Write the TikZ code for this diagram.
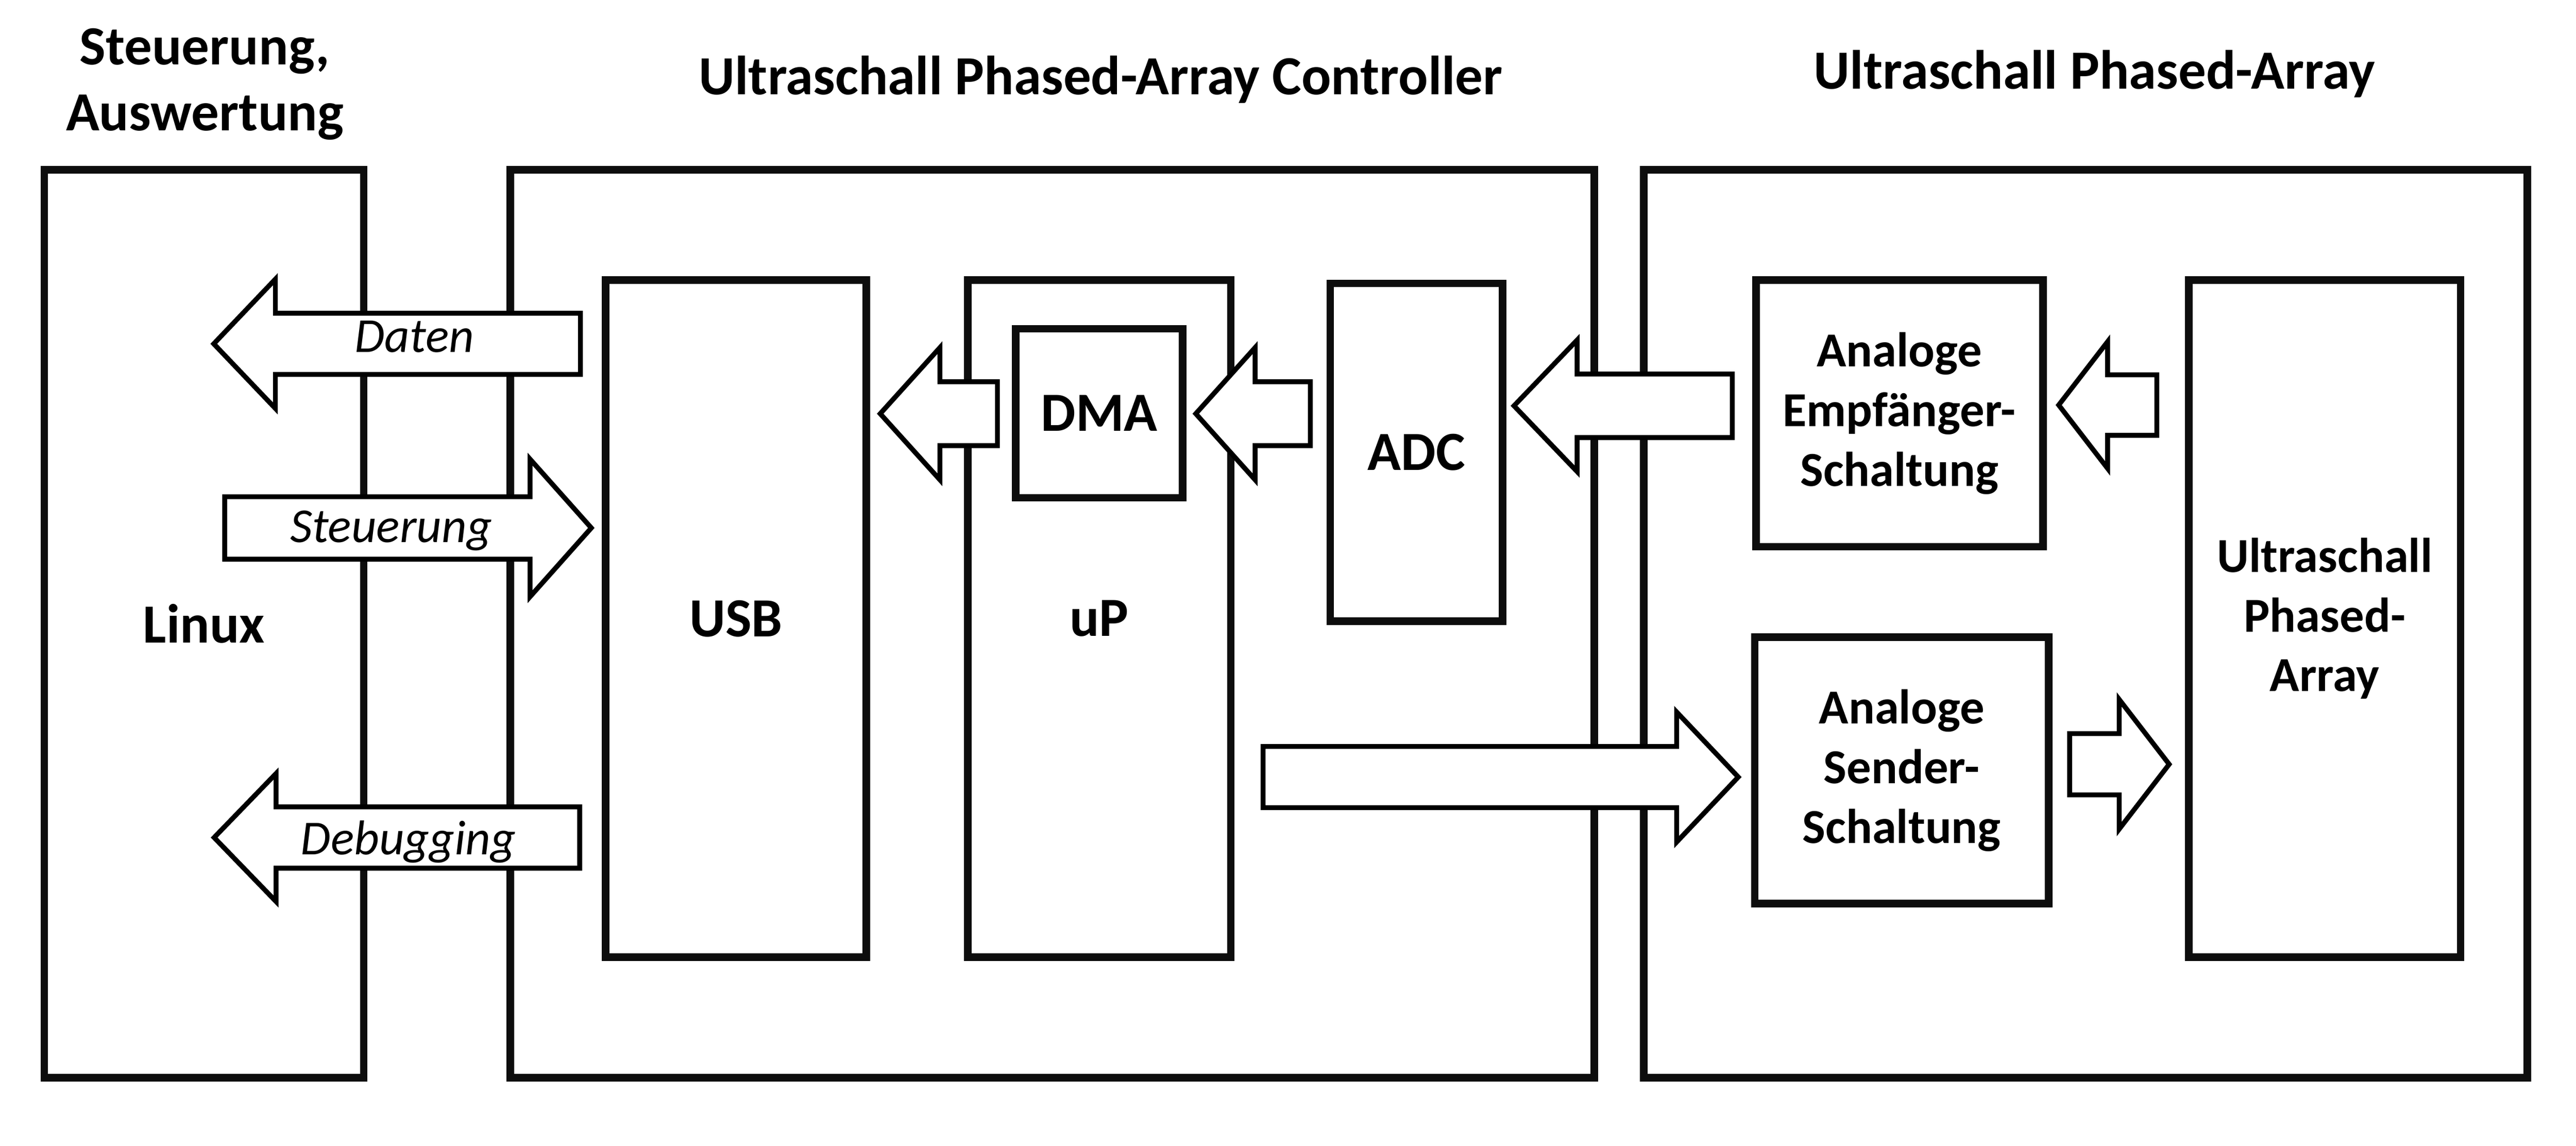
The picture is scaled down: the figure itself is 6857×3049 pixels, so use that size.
\documentclass[tikz,border=0pt]{standalone}
\usepackage{fontspec}
\setmainfont{Carlito}
\definecolor{boxcol}{RGB}{13,13,13}
\newcommand\bigfnt{\fontsize{14.7}{17.5}\selectfont\bfseries}
\newcommand\smallfnt{\fontsize{13}{15.9}\selectfont\bfseries}
\newcommand\itfnt{\fontsize{13}{15.9}\selectfont\itshape}
\newcommand\blkarrow[6]{\draw[blkarr] (#1,#4) -- (#2,#4-#5) -- (#2,#4-#6) -- (#3,#4-#6) -- (#3,#4+#6) -- (#2,#4+#6) -- (#2,#4+#5) -- cycle;}
\tikzset{
  boxst/.style={draw=boxcol, line width=2pt, inner sep=0pt, outer sep=0pt, align=center, font=\bigfnt},
  blkarr/.style={draw=black, line width=1.3pt, fill=white, line join=miter},
  ttl/.style={anchor=base, align=center, font=\bigfnt, inner sep=0pt},
  itl/.style={anchor=base, font=\itfnt, inner sep=0pt}
}
\begin{document}
\begin{tikzpicture}[x=0.1pt,y=-0.1pt]
\fill[white] (0,0) rectangle (6857,3049);
\useasboundingbox (0,0) rectangle (6857,3049);
% titles
\node[ttl] (t1) at (545,347) {Steuerung,\\Auswertung};
\node[ttl] (t2) at (2930,252) {Ultraschall Phased-Array Controller};
\node[ttl] (t3) at (5575,237) {Ultraschall Phased-Array};
% outer boxes
\node[boxst, minimum width=85pt, minimum height=241.6pt] (linux) at (543,1660) {Linux};
\node[boxst, minimum width=288.6pt, minimum height=241.6pt] (ctrl) at (2801,1660) {};
\node[boxst, minimum width=235.2pt, minimum height=241.6pt] (arr) at (5551,1660) {};
% inner boxes
\node[boxst, minimum width=69.4pt, minimum height=180.2pt] (usb) at (1959,1646) {USB};
\node[boxst, minimum width=70pt, minimum height=180.2pt] (up) at (2926,1646) {};
\node[boxst, minimum width=44.4pt, minimum height=45pt] (dma) at (2926,1100) {DMA};
\node[font=\bigfnt, anchor=base, inner sep=0pt] (uplbl) at (2926,1693) {uP};
\node[boxst, minimum width=45.9pt, minimum height=89.9pt] (adc) at (3770.5,1203.5) {ADC};
\node[boxst, font=\smallfnt, minimum width=76.4pt, minimum height=71pt] (emp) at (5056,1100) {Analoge\\Empfänger-\\Schaltung};
\node[boxst, font=\smallfnt, minimum width=78.2pt, minimum height=70.9pt] (snd) at (5062,2050.5) {Analoge\\Sender-\\Schaltung};
\node[boxst, font=\smallfnt, minimum width=72.4pt, minimum height=180.2pt] (upa) at (6188,1646) {Ultraschall\\Phased-\\Array};
% block arrows: tip, head base, shaft end, centre, head half, shaft half
\blkarrow{569}{733}{1545}{915}{172}{81.5}
\blkarrow{1574}{1411}{598}{1405}{183}{83}
\blkarrow{570}{735}{1543}{2229}{170.5}{81.5}
\blkarrow{2343}{2502}{2655}{1101}{176}{85}
\blkarrow{3183}{3341}{3488}{1101}{176}{85}
\blkarrow{4030}{4198}{4611}{1080}{175}{84.5}
\blkarrow{5480}{5610}{5741}{1078}{168.5}{80.5}
\blkarrow{4627}{4463}{3362}{2068}{173}{81.5}
\blkarrow{5774}{5641}{5509}{2034}{172.5}{81.5}
% arrow labels
\node[itl] (ld) at (1103,937) {Daten};
\node[itl] (ls) at (1041,1444) {Steuerung};
\node[itl] (lg) at (1087,2274) {Debugging};
\end{tikzpicture}
\end{document}
